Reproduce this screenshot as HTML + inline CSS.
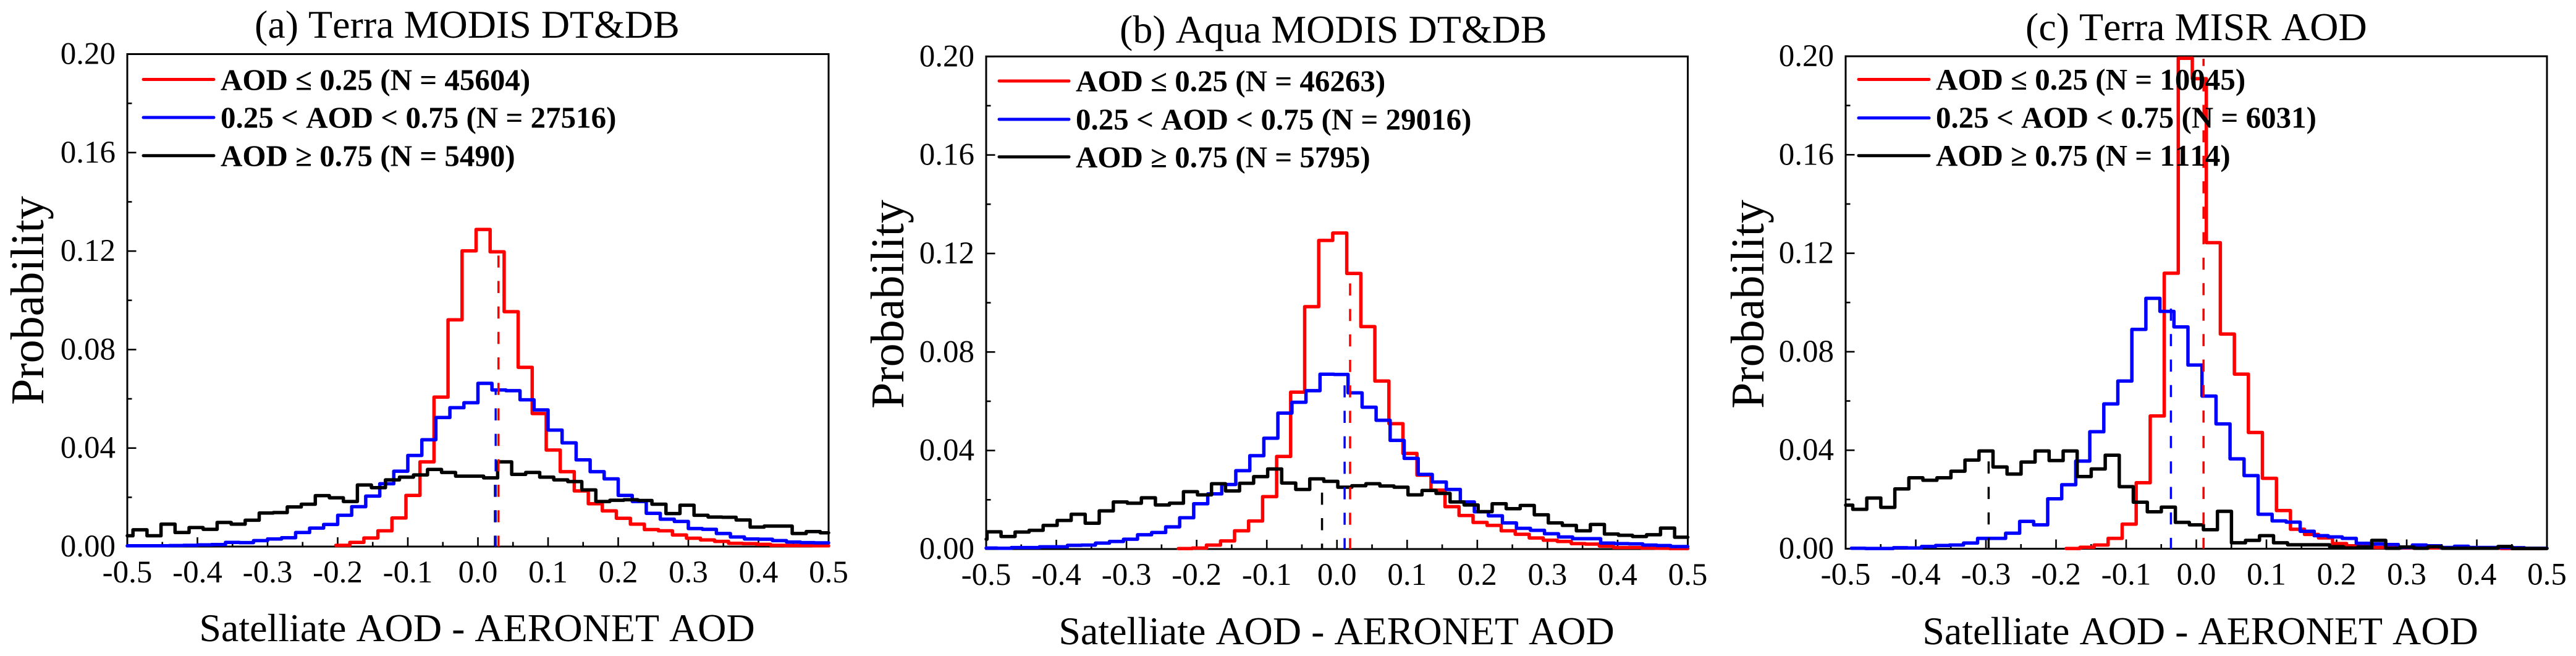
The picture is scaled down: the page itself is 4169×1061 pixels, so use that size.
<!DOCTYPE html>
<html lang="en">
<head>
<meta charset="utf-8">
<title>AOD difference histograms</title>
<style>
html,body{margin:0;padding:0;background:#fff;width:4169px;height:1061px;overflow:hidden}
svg{display:block}
text{font-family:"Liberation Serif","DejaVu Serif",serif;fill:#000;font-kerning:none}
.title,.xtitle{font-size:64px}
.ytitle{font-size:76px}
.tick{font-size:51px}
.leg{font-size:49px;font-weight:bold}
</style>
</head>
<body>
<svg xmlns="http://www.w3.org/2000/svg" width="4169" height="1061" viewBox="0 0 4169 1061">
<rect x="0" y="0" width="4169" height="1061" fill="#fff"/>

<g>
  <text class="title" x="412" y="61">(a) Terra MODIS DT&amp;DB</text>
  <g id="plot-a"></g>
  <text class="xtitle" x="772" y="1037" text-anchor="middle">Satelliate AOD - AERONET AOD</text>
  <text class="ytitle" transform="translate(70,486) rotate(-90)" text-anchor="middle">Probability</text>
  <g>
    <line x1="232" x2="346" y1="128.5" y2="128.5" stroke="#f00" stroke-width="5" stroke-linecap="round"/>
    <line x1="232" x2="346" y1="190" y2="190" stroke="#00f" stroke-width="5" stroke-linecap="round"/>
    <line x1="232" x2="346" y1="251.7" y2="251.7" stroke="#000" stroke-width="5" stroke-linecap="round"/>
    <text class="leg" x="357" y="145.5">AOD ≤ 0.25 (N = 45604)</text>
    <text class="leg" x="357" y="206.5">0.25 &lt; AOD &lt; 0.75 (N = 27516)</text>
    <text class="leg" x="357" y="268.5">AOD ≥ 0.75 (N = 5490)</text>
  </g>
</g>

<g>
  <text class="title" x="1812" y="69">(b) Aqua MODIS DT&amp;DB</text>
  <g id="plot-b"></g>
  <text class="xtitle" x="2163" y="1042" text-anchor="middle">Satelliate AOD - AERONET AOD</text>
  <text class="ytitle" transform="translate(1462,492) rotate(-90)" text-anchor="middle">Probability</text>
  <g>
    <line x1="1617" x2="1730" y1="131" y2="131" stroke="#f00" stroke-width="5" stroke-linecap="round"/>
    <line x1="1617" x2="1730" y1="193" y2="193" stroke="#00f" stroke-width="5" stroke-linecap="round"/>
    <line x1="1617" x2="1730" y1="253.7" y2="253.7" stroke="#000" stroke-width="5" stroke-linecap="round"/>
    <text class="leg" x="1741" y="147.5">AOD ≤ 0.25 (N = 46263)</text>
    <text class="leg" x="1741" y="209.5">0.25 &lt; AOD &lt; 0.75 (N = 29016)</text>
    <text class="leg" x="1741" y="270.5">AOD ≥ 0.75 (N = 5795)</text>
  </g>
</g>

<g>
  <text class="title" x="3278" y="65">(c) Terra MISR AOD</text>
  <g id="plot-c"></g>
  <text class="xtitle" x="3561" y="1042" text-anchor="middle">Satelliate AOD - AERONET AOD</text>
  <text class="ytitle" transform="translate(2854,492) rotate(-90)" text-anchor="middle">Probability</text>
  <g>
    <line x1="3008" x2="3122" y1="128.5" y2="128.5" stroke="#f00" stroke-width="5" stroke-linecap="round"/>
    <line x1="3008" x2="3122" y1="190.8" y2="190.8" stroke="#00f" stroke-width="5" stroke-linecap="round"/>
    <line x1="3008" x2="3122" y1="251.7" y2="251.7" stroke="#000" stroke-width="5" stroke-linecap="round"/>
    <text class="leg" x="3133" y="145">AOD ≤ 0.25 (N = 10045)</text>
    <text class="leg" x="3133" y="206.7">0.25 &lt; AOD &lt; 0.75 (N = 6031)</text>
    <text class="leg" x="3133" y="268">AOD ≥ 0.75 (N = 1114)</text>
  </g>
</g>
</svg>

<script>
// Shared axis data
const xTickValues = [-0.5,-0.4,-0.3,-0.2,-0.1,0.0,0.1,0.2,0.3,0.4,0.5];
const xTickLabels = ["-0.5","-0.4","-0.3","-0.2","-0.1","0.0","0.1","0.2","0.3","0.4","0.5"];
const xMinorValues = [-0.45,-0.35,-0.25,-0.15,-0.05,0.05,0.15,0.25,0.35,0.45];
const yTickValues = [0,0.04,0.08,0.12,0.16,0.20];
const yTickLabels = ["0.00","0.04","0.08","0.12","0.16","0.20"];
const yMinorValues = [0.02,0.06,0.10,0.14,0.18];
const binWidth = 0.02;

// Panel (a) bin starts and probabilities
const aRedStart = -0.2026;
const aRed = [.0005,.0017,.0035,.0064,.0116,.0208,.0344,.0607,.0921,.1201,.1288,.1197,.0954,.0728,.054,.0392,.0304,.0226,.0174,.0145,.0115,.0091,.0069,.0064,.0047,.0034,.0027,.0021,.0013,.0012,.0009,.0005,.0004,.0004,.0003,.0003];
const aBlueStart = -0.5;
const aBlue = [.0003,.0003,.0003,.0004,.0005,.0007,.0008,.0017,.0016,.0024,.0031,.0036,.0057,.0075,.009,.0127,.0162,.0205,.0255,.0306,.037,.0434,.0524,.0564,.0584,.0663,.0636,.0633,.0596,.0555,.0473,.0421,.0352,.0304,.0275,.0208,.0183,.0135,.0111,.0102,.0073,.007,.0053,.0039,.0031,.003,.0024,.0018,.0016,.0015,.0013];
const aBlackStart = -0.5119;
const aBlack = [.0044,.0068,.0044,.0091,.0057,.0077,.007,.0098,.0091,.0107,.0136,.0138,.0161,.0172,.0207,.0198,.0183,.025,.0239,.0271,.0282,.0291,.0313,.0301,.0286,.0286,.0279,.0344,.0293,.0301,.0282,.0271,.0264,.023,.0183,.0188,.019,.0187,.0172,.0134,.0168,.0127,.012,.0119,.0108,.0079,.0083,.0083,.0053,.0061,.0056];
const aMeanX = [0.0243,0.0253,0.0293];
const aMeanTop = [0.0279,0.0633,0.1192];

// Panel (b) bin starts and probabilities
const bRedStart = -0.226;
const bRed = [.0002,.0004,.0016,.0033,.0074,.0114,.0213,.0376,.0637,.0984,.1253,.1283,.1119,.0903,.0682,.0509,.0388,.03,.0239,.0172,.0136,.0108,.0096,.0074,.006,.0045,.0036,.0031,.0022,.002,.0012,.0006,.0006,.0004,.0003,.0002,.0002];
const bBlueStart = -0.5042;
const bBlue = [.0004,.0003,.0006,.0006,.0009,.0009,.0015,.0016,.0024,.0031,.004,.0058,.0067,.009,.0127,.0184,.0224,.0262,.0318,.0379,.045,.0552,.0596,.0643,.071,.0709,.0634,.0576,.0523,.0441,.0368,.0303,.0272,.0242,.0191,.0151,.0135,.0106,.0084,.0076,.0062,.0049,.0042,.0042,.0024,.0022,.0021,.0016,.0014,.001,.001];
const bBlackStart = -0.5188;
const bBlack = [.004,.007,.0051,.0069,.0076,.0096,.0116,.0141,.0105,.0155,.0191,.0186,.0208,.0179,.0186,.0233,.022,.0265,.0236,.0267,.0294,.0325,.0268,.0242,.0285,.0275,.0251,.0257,.0265,.0256,.0251,.022,.0238,.0226,.0191,.0179,.0152,.0184,.0164,.0177,.0139,.0106,.0096,.0074,.01,.0061,.0056,.0051,.0058,.0085,.0048];
const bMeanX = [-0.0213,0.0109,0.0187];
const bMeanTop = [0.0275,0.0709,0.1083];

// Panel (c) bin starts and probabilities
const cRedStart = -0.1857;
const cRed = [.0001,.0006,.0015,.0042,.01,.0268,.0539,.1119,.1992,.1909,.1243,.0872,.0709,.0472,.0286,.0155,.0079,.0058,.0044,.0021,.0012,.0009,.0005,.0004,.0003,.0003,.0003,.0003,.0002,.0002,.0002,.0001,.0001,.0001];
const cBlueStart = -0.4919;
const cBlue = [.0002,.0001,.0001,.0004,.0003,.0009,.0013,.0015,.0023,.0042,.0042,.0063,.0111,.0097,.0203,.026,.0356,.0475,.0588,.0681,.0891,.1017,.0964,.0901,.0746,.062,.0507,.0365,.0297,.014,.0113,.0108,.0071,.0053,.0048,.0042,.0022,.0019,.0017,.0005,.0015,.0012,.0005,.001,.0005,.0005,.0005,.0004,.0002,.0002];
const cBlackStart = -0.5099;
const cBlack = [.0177,.016,.0206,.0168,.0243,.0288,.0278,.0288,.0315,.036,.0397,.0332,.0303,.0352,.0397,.0358,.0397,.0293,.0324,.038,.0252,.0189,.015,.0169,.0107,.0097,.0077,.0152,.0024,.0034,.0053,.0024,.0016,.0016,.0016,.0008,.0003,.0007,.0034,.0002,.0007,.0002,.0008,.0002,.0002,.0002,.0002,.0009,.0001,.0001,.0001];
const cMeanX = [-0.2961,-0.0362,0.0103];
const cMeanTop = [0.0358,0.0988,0.199];

const SVGNS = "http://www.w3.org/2000/svg";
const seriesColors = ["#f00","#00f","#000"];
const seriesKeys = ["low-aod","mid-aod","high-aod"];

function make(parent, tag, attrs, text) {
  const el = document.createElementNS(SVGNS, tag);
  for (const k in attrs) el.setAttribute(k, attrs[k]);
  if (text !== undefined) el.textContent = text;
  parent.appendChild(el);
  return el;
}

function drawPanel(id, box, series, meanX, meanTop, meanOffsets) {
  const root = document.getElementById("plot-" + id);
  const sx = v => box.left + (v + 0.5) * (box.right - box.left);
  const sy = v => box.bottom - (v / 0.2) * (box.bottom - box.top);

  // Frame
  const frame = make(root, "rect", {x: box.left, y: box.top, width: box.right - box.left, height: box.bottom - box.top, fill: "none", stroke: "#000", "stroke-width": 3});
  
  

  // X axis
  xTickValues.forEach((v, i) => {
    const t = make(root, "line", {x1: sx(v), x2: sx(v), y1: box.bottom, y2: box.bottom - 15, stroke: "#000", "stroke-width": 2.6});
    
    
    const l = make(root, "text", {class: "tick", x: sx(v), y: box.bottom + 58, "text-anchor": "middle"}, xTickLabels[i]);
    
    
  });
  xMinorValues.forEach(v => {
    const t = make(root, "line", {x1: sx(v), x2: sx(v), y1: box.bottom, y2: box.bottom - 7.5, stroke: "#000", "stroke-width": 2.6});
    
    
  });

  // Y axis
  yTickValues.forEach((v, i) => {
    const t = make(root, "line", {x1: box.left, x2: box.left + 14.5, y1: sy(v), y2: sy(v), stroke: "#000", "stroke-width": 2.6});
    
    
    const l = make(root, "text", {class: "tick", x: box.left - 19, y: sy(v) + 16, "text-anchor": "end"}, yTickLabels[i]);
    
    
  });
  yMinorValues.forEach(v => {
    const t = make(root, "line", {x1: box.left, x2: box.left + 7.5, y1: sy(v), y2: sy(v), stroke: "#000", "stroke-width": 2.6});
    
    
  });

  // Step histograms
  series.forEach((s, i) => {
    let d = "";
    s.values.forEach((v, k) => {
      const a = Math.max(s.start + k * binWidth, -0.5);
      const b = Math.min(s.start + (k + 1) * binWidth, 0.5);
      if (a >= 0.5) return;
      d += (d ? "L" : "M") + sx(a).toFixed(1) + " " + sy(v).toFixed(1) + "L" + sx(b).toFixed(1) + " " + sy(v).toFixed(1);
    });
    const p = make(root, "path", {d: d, fill: "none", stroke: seriesColors[i], "stroke-width": 5.5, "stroke-linejoin": "round", "stroke-linecap": "round"});
    
    
  });

  // Mean lines (dashed), black first, red on top
  [2, 1, 0].forEach(i => {
    const j = 2 - i;
    const m = make(root, "line", {x1: sx(meanX[j]), x2: sx(meanX[j]), y1: box.bottom, y2: sy(meanTop[j]), stroke: seriesColors[i], "stroke-width": 3.5, "stroke-dasharray": "19.6 21.6", "stroke-dashoffset": meanOffsets[j]});
    
    
  });
}

drawPanel("a", {left: 206, right: 1341, top: 87.5, bottom: 884},
  [{start: aRedStart, values: aRed}, {start: aBlueStart, values: aBlue}, {start: aBlackStart, values: aBlack}],
  aMeanX, aMeanTop, [2, 2, 2]);
drawPanel("b", {left: 1596, right: 2731.5, top: 91.3, bottom: 888},
  [{start: bRedStart, values: bRed}, {start: bBlueStart, values: bBlue}, {start: bBlackStart, values: bBlack}],
  bMeanX, bMeanTop, [10.8, 2, 2]);
drawPanel("c", {left: 2987, right: 4122, top: 91, bottom: 887.5},
  [{start: cRedStart, values: cRed}, {start: cBlueStart, values: cBlue}, {start: cBlackStart, values: cBlack}],
  cMeanX, cMeanTop, [2, 2, 2]);
</script>
</body>
</html>
